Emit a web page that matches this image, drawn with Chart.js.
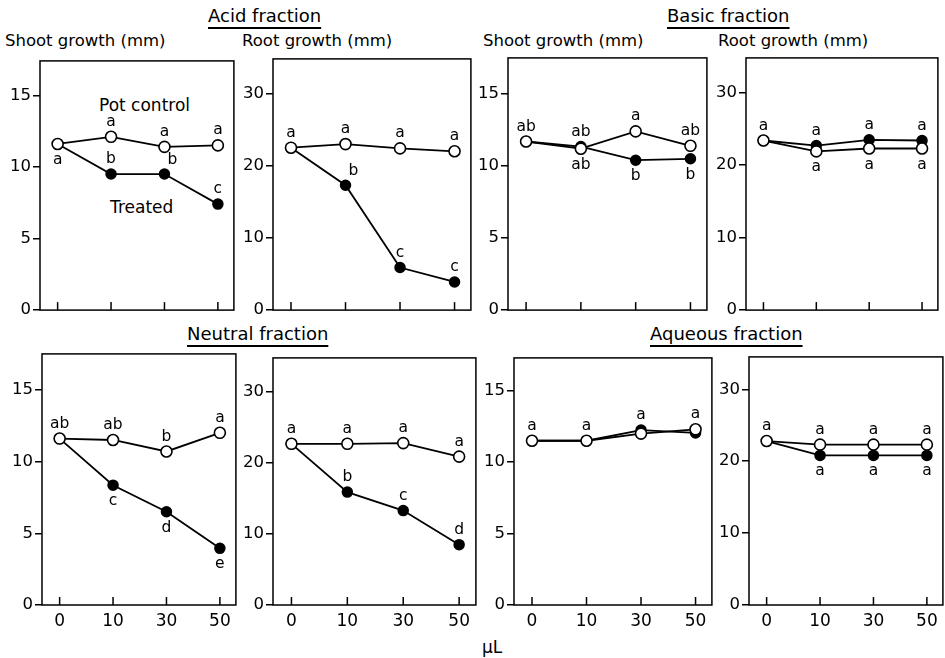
<!DOCTYPE html>
<html>
<head>
<meta charset="utf-8">
<script src="https://cdn.jsdelivr.net/npm/chart.js@4.4.0/dist/chart.umd.min.js"></script>
<style>
  body { margin: 0; background: #fff; width: 945px; height: 658px; position: relative; overflow: hidden;
         font-family: "DejaVu Sans", sans-serif; color: #000; }
  canvas { position: absolute; }
  .txt { position: absolute; white-space: nowrap; font-size: 16.5px; line-height: 1; transform: translateY(-50%); }
  .ttl { font-size: 18px; text-decoration: underline; text-underline-offset: 5px; text-decoration-thickness: 1.5px; }
</style>
</head>
<body>

<div class="txt ttl" style="left:208px; top:16px;">Acid fraction</div>
<div class="txt ttl" style="left:667px; top:16px;">Basic fraction</div>
<div class="txt ttl" style="left:187px; top:334px;">Neutral fraction</div>
<div class="txt ttl" style="left:650px; top:334px;">Aqueous fraction</div>

<div class="txt" style="left:5px; top:41px;">Shoot growth (mm)</div>
<div class="txt" style="left:242px; top:41px;">Root growth (mm)</div>
<div class="txt" style="left:483px; top:41px;">Shoot growth (mm)</div>
<div class="txt" style="left:718px; top:41px;">Root growth (mm)</div>

<div class="txt" style="left:99px; top:105px; font-size:17px;">Pot control</div>
<div class="txt" style="left:110px; top:207px; font-size:17px;">Treated</div>

<div class="txt" style="left:482px; top:647px; font-size:17px;">μL</div>

<canvas id="acidShoot"></canvas>
<canvas id="acidRoot"></canvas>
<canvas id="basicShoot"></canvas>
<canvas id="basicRoot"></canvas>
<canvas id="neutralShoot"></canvas>
<canvas id="neutralRoot"></canvas>
<canvas id="aqueousShoot"></canvas>
<canvas id="aqueousRoot"></canvas>

<script>
// x categories (dose) and y tick labels
const doses = ['0', '10', '30', '50'];
const shootTicks = [0, 5, 10, 15];
const rootTicks = [0, 10, 20, 30];

// growth values (mm)
const acidShootControl = [11.6, 12.1, 11.4, 11.5];
const acidShootTreated = [11.6, 9.5, 9.5, 7.4];
const acidRootControl = [22.5, 23.0, 22.4, 22.0];
const acidRootTreated = [22.5, 17.3, 5.9, 3.9];

const basicShootControl = [11.7, 11.2, 12.4, 11.4];
const basicShootTreated = [11.7, 11.35, 10.4, 10.5];
const basicRootControl = [23.4, 21.9, 22.3, 22.3];
const basicRootTreated = [23.4, 22.7, 23.5, 23.4];

const neutralShootControl = [11.6, 11.5, 10.7, 12.0];
const neutralShootTreated = [11.6, 8.35, 6.5, 3.95];
const neutralRootControl = [22.7, 22.7, 22.8, 20.9];
const neutralRootTreated = [22.7, 15.9, 13.3, 8.5];

const aqueousShootControl = [11.5, 11.5, 12.0, 12.3];
const aqueousShootTreated = [11.5, 11.5, 12.25, 12.05];
const aqueousRootControl = [22.8, 22.3, 22.3, 22.3];
const aqueousRootTreated = [22.8, 20.8, 20.8, 20.8];

// significance letters
const acidShootControlLetters = ['', 'a', 'a', 'a'];
const acidShootTreatedLetters = ['a', 'b', 'b', 'c'];
const acidRootControlLetters = ['a', 'a', 'a', 'a'];
const acidRootTreatedLetters = ['', 'b', 'c', 'c'];
const basicShootControlLetters = ['', 'ab', 'a', 'ab'];
const basicShootTreatedLetters = ['ab', 'ab', 'b', 'b'];
const basicRootControlLetters = ['', 'a', 'a', 'a'];
const basicRootTreatedLetters = ['a', 'a', 'a', 'a'];
const neutralShootControlLetters = ['ab', 'ab', 'b', 'a'];
const neutralShootTreatedLetters = ['', 'c', 'd', 'e'];
const neutralRootControlLetters = ['a', 'a', 'a', 'a'];
const neutralRootTreatedLetters = ['', 'b', 'c', 'd'];
const aqueousShootControlLetters = ['a', 'a', '', 'a'];
const aqueousShootTreatedLetters = ['', '', 'a', ''];
const aqueousRootControlLetters = ['a', 'a', 'a', 'a'];
const aqueousRootTreatedLetters = ['', 'a', 'a', 'a'];

const FONT = '"DejaVu Sans", sans-serif';

// where each letter sits relative to its point
const letterOffsets = {
  u: [0, -15],
  d: [0, 16],
  ur: [8, -14]
};

// frame round the plot area plus the small upward ticks on the x axis
const framePlugin = {
  id: 'frame',
  beforeDatasetsDraw(chart) {
    const { ctx, chartArea: a, scales } = chart;
    ctx.save();
    ctx.strokeStyle = '#000';
    ctx.lineWidth = 1.5;
    ctx.strokeRect(a.left, a.top, a.right - a.left, a.bottom - a.top);
    doses.forEach((d, i) => {
      const x = scales.x.getPixelForValue(i);
      ctx.beginPath();
      ctx.moveTo(x, a.bottom);
      ctx.lineTo(x, a.bottom - 8);
      ctx.stroke();
    });
    ctx.restore();
  }
};

const letterPlugin = {
  id: 'letters',
  afterDatasetsDraw(chart) {
    const ctx = chart.ctx;
    ctx.save();
    ctx.fillStyle = '#000';
    ctx.font = '15.5px ' + FONT;
    ctx.textAlign = 'center';
    ctx.textBaseline = 'middle';
    chart.data.datasets.forEach((ds, di) => {
      const meta = chart.getDatasetMeta(di);
      ds.letters.forEach((txt, i) => {
        if (!txt) return;
        const pt = meta.data[i];
        const off = letterOffsets[ds.places[i]];
        ctx.fillText(txt, pt.x + off[0], pt.y + off[1]);
      });
    });
    ctx.restore();
  }
};

function makePanel(id, box, yMax, yTicks, control, treated, ctlLetters, trtLetters, ctlPlaces, trtPlaces, showX) {
  const yW = 40, padT = 6, padR = 6;
  const xH = showX ? 32 : 10;
  const canvas = document.getElementById(id);
  canvas.width = box.r - box.l + yW + padR;
  canvas.height = box.b - box.t + padT + xH;
  canvas.style.left = (box.l - yW) + 'px';
  canvas.style.top = (box.t - padT) + 'px';

  const points = arr => arr.map((v, i) => ({ x: i, y: v }));

  return new Chart(canvas.getContext('2d'), {
    type: 'line',
    data: {
      datasets: [{
        label: 'Pot control',
        data: points(control),
        letters: ctlLetters,
        places: ctlPlaces,
        borderColor: '#000',
        borderWidth: 1.8,
        pointRadius: 5.5,
        pointBorderWidth: 1.6,
        pointBackgroundColor: '#fff',
        pointBorderColor: '#000',
        tension: 0
      }, {
        label: 'Treated',
        data: points(treated),
        letters: trtLetters,
        places: trtPlaces,
        borderColor: '#000',
        borderWidth: 1.8,
        pointRadius: 5,
        pointBorderWidth: 1.5,
        pointBackgroundColor: '#000',
        pointBorderColor: '#000',
        tension: 0
      }]
    },
    options: {
      responsive: false,
      animation: false,
      layout: { padding: { top: padT, right: padR, left: 0, bottom: 0 } },
      plugins: { legend: { display: false }, tooltip: { enabled: false } },
      scales: {
        x: {
          type: 'linear',
          min: -0.33,
          max: 3.3,
          grid: { display: false, drawTicks: false },
          border: { display: false },
          afterBuildTicks: s => { s.ticks = doses.map((d, i) => ({ value: i })); },
          afterFit: s => { s.height = xH; },
          ticks: {
            display: showX,
            color: '#000',
            padding: 6,
            font: { family: FONT, size: 17 },
            callback: v => doses[v]
          }
        },
        y: {
          min: 0,
          max: yMax,
          grid: { display: true, drawOnChartArea: false, drawTicks: true, tickLength: 7, color: '#000', lineWidth: 1.5 },
          border: { display: false },
          afterBuildTicks: s => { s.ticks = yTicks.map(v => ({ value: v })); },
          afterFit: s => { s.width = yW; },
          ticks: {
            color: '#000',
            padding: 2,
            font: { family: FONT, size: 16.5 }
          }
        }
      }
    },
    plugins: [framePlugin, letterPlugin]
  });
}

const U = ['u', 'u', 'u', 'u'];
const D = ['d', 'd', 'd', 'd'];

makePanel('acidShoot', { l: 40, t: 55, r: 235, b: 312 }, 17.4, shootTicks,
  acidShootControl, acidShootTreated, acidShootControlLetters, acidShootTreatedLetters,
  U, ['d', 'u', 'ur', 'u'], false);
makePanel('acidRoot', { l: 273, t: 53, r: 472, b: 312 }, 34.8, rootTicks,
  acidRootControl, acidRootTreated, acidRootControlLetters, acidRootTreatedLetters,
  U, ['u', 'ur', 'u', 'u'], false);
makePanel('basicShoot', { l: 508, t: 52, r: 708, b: 312 }, 17.5, shootTicks,
  basicShootControl, basicShootTreated, basicShootControlLetters, basicShootTreatedLetters,
  ['u', 'd', 'u', 'u'], ['u', 'u', 'd', 'd'], false);
makePanel('basicRoot', { l: 746, t: 52, r: 939, b: 312 }, 34.8, rootTicks,
  basicRootControl, basicRootTreated, basicRootControlLetters, basicRootTreatedLetters,
  D, U, false);
makePanel('neutralShoot', { l: 42, t: 348, r: 237, b: 605 }, 17.5, shootTicks,
  neutralShootControl, neutralShootTreated, neutralShootControlLetters, neutralShootTreatedLetters,
  U, D, true);
makePanel('neutralRoot', { l: 273, t: 352, r: 477, b: 605 }, 34.8, rootTicks,
  neutralRootControl, neutralRootTreated, neutralRootControlLetters, neutralRootTreatedLetters,
  U, U, true);
makePanel('aqueousShoot', { l: 514, t: 352, r: 713, b: 605 }, 17.3, shootTicks,
  aqueousShootControl, aqueousShootTreated, aqueousShootControlLetters, aqueousShootTreatedLetters,
  U, U, true);
makePanel('aqueousRoot', { l: 749, t: 351, r: 944, b: 605 }, 34.5, rootTicks,
  aqueousRootControl, aqueousRootTreated, aqueousRootControlLetters, aqueousRootTreatedLetters,
  U, D, true);
</script>
</body>
</html>
